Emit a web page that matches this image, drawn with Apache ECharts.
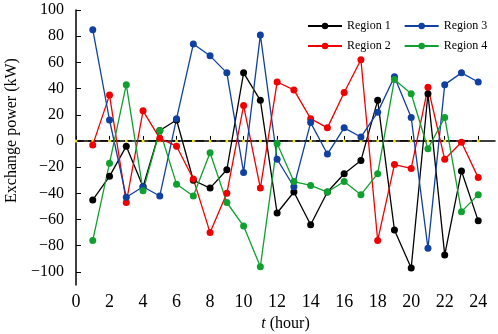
<!DOCTYPE html>
<html style="height: 100%">
<head>
	<meta charset="utf-8">
</head>
<body style="height: 100%; margin: 0; background: #fff">
	<div id="container" style="width: 498px; height: 334px"></div>
	<script type="text/javascript" src="https://cdn.jsdelivr.net/npm/echarts@6/dist/echarts.min.js"></script>
	<script type="text/javascript">
		// hours 1..24
		let hours = [1, 2, 3, 4, 5, 6, 7, 8, 9, 10, 11, 12, 13, 14, 15, 16, 17, 18, 19, 20, 21, 22, 23, 24];
		let region1 = [-45, -27, -4, -35, 8, 16, -30, -36, -22, 52, 31, -55, -39, -64, -39, -25, -15, 31, -68, -97, 36, -87, -23, -61];
		let region2 = [-3, 35, -47, 23, 2, -4, -29, -70, -40, 27, -36, 45, 39, 17, 10, 37, 62, -76, -18, -21, 41, -14, -1, -28];
		let region3 = [85, 16, -43, -35, -42, 17, 74, 65, 52, -24, 81, -14, -35, 14, -10, 10, 3, 22, 49, 18, -82, 43, 52, 45];
		let region4 = [-76, -17, 43, -38, 8, -33, -42, -9, -47, -65, -96, -2, -31, -34, -39, -31, -41, -25, 47, 36, -6, 18, -54, -41];
		let zeroHours = [0, 1, 2, 3, 4, 5, 6, 7, 8, 9, 10, 11, 12, 13, 14, 15, 16, 17, 18, 19, 20, 21, 22, 23, 24];
		let xTicks = [0, 2, 4, 6, 8, 10, 12, 14, 16, 18, 20, 22, 24];
		let yTicks = [-100, -80, -60, -40, -20, 0, 20, 40, 60, 80, 100];

		let serif = 'Liberation Serif';
		let dom = document.getElementById("container");
		let myChart = echarts.init(dom);

		function pairs(vals) {
			return hours.map(function (h, i) { return [h, vals[i]]; });
		}

		function lineSeries(name, vals, color) {
			return {
				name: name,
				type: 'line',
				data: pairs(vals),
				symbol: 'circle',
				symbolSize: 7,
				itemStyle: { color: color },
				lineStyle: { color: color, width: 1.3 },
				animation: false
			};
		}

		let option = {
			backgroundColor: '#fff',
			textStyle: { fontFamily: serif },
			grid: { left: 76, right: 3, top: 10, bottom: 49, outerBoundsMode: 'none', containLabel: false },
			legend: [
				{
					data: ['Region 1', 'Region 3'],
					left: 302, top: 15,
					itemWidth: 34, itemHeight: 8, itemGap: 13,
					textStyle: { fontFamily: serif, fontSize: 12, color: '#000' }
				},
				{
					data: ['Region 2', 'Region 4'],
					left: 302, top: 35,
					itemWidth: 34, itemHeight: 8, itemGap: 13,
					textStyle: { fontFamily: serif, fontSize: 12, color: '#000' }
				}
			],
			xAxis: {
				type: 'value',
				min: 0, max: 25,
				name: '{i|t} (hour)',
				nameLocation: 'middle',
				nameGap: 28,
				nameTextStyle: {
					fontFamily: serif, fontSize: 16, color: '#000',
					rich: { i: { fontFamily: serif, fontSize: 16, fontStyle: 'italic', color: '#000' } }
				},
				axisLine: { lineStyle: { color: '#000', width: 1.5 } },
				axisTick: { inside: true, length: 5, customValues: xTicks, lineStyle: { color: '#000' } },
				axisLabel: { customValues: xTicks, fontFamily: serif, fontSize: 18, color: '#000', margin: 8 },
				splitLine: { show: false }
			},
			yAxis: {
				type: 'value',
				min: -110, max: 100,
				name: 'Exchange power (kW)',
				nameLocation: 'middle',
				nameGap: 49,
				nameTextStyle: { fontFamily: serif, fontSize: 16, color: '#000', padding: [0, 0, 0, 34] },
				axisLine: { show: true, lineStyle: { color: '#000', width: 1.5 } },
				axisTick: { show: true, inside: true, length: 5, customValues: yTicks, lineStyle: { color: '#000' } },
				axisLabel: {
					customValues: yTicks, fontFamily: serif, fontSize: 16, color: '#000', margin: 12,
					formatter: function (v) { return String(v).replace('-', '\u2212'); }
				},
				splitLine: { show: false }
			},
			series: [
				{
					name: 'zero',
					type: 'line',
					data: zeroHours.map(function (h) { return [h, 0]; }),
					symbol: 'circle',
					symbolSize: 3,
					itemStyle: { color: '#f2e21a' },
					lineStyle: { color: '#000', width: 1.3, type: [8, 4] },
					z: 1,
					animation: false
				},
				lineSeries('Region 1', region1, '#000000'),
				lineSeries('Region 2', region2, '#f00000'),
				lineSeries('Region 3', region3, '#1040a0'),
				lineSeries('Region 4', region4, '#10a030')
			]
		};

		myChart.setOption(option);
	</script>
</body>
</html>
